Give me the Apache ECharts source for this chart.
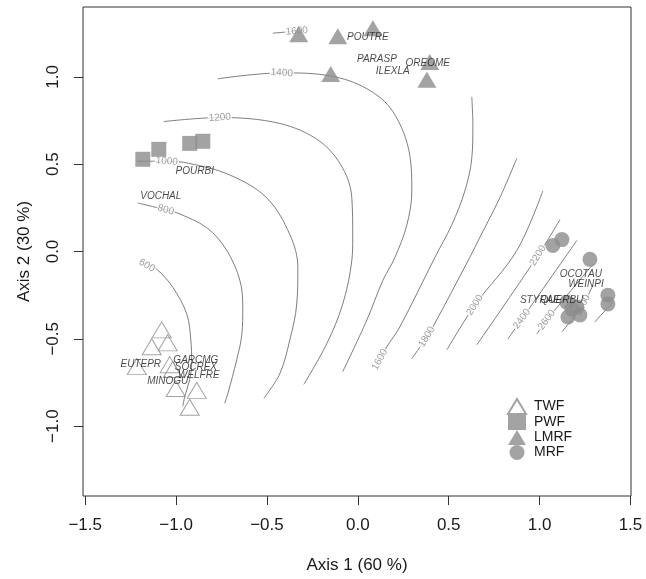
<!DOCTYPE html>
<html>
<head>
<meta charset="utf-8">
<script src="https://cdn.jsdelivr.net/npm/echarts@6/dist/echarts.min.js"></script>
<style>html,body{margin:0;padding:0;background:#fff}#c{width:646px;height:579px}</style>
</head>
<body>
<div id="c"></div>
<script>
// ---- data ----
const xTicks = [-1.5, -1.0, -0.5, 0.0, 0.5, 1.0, 1.5];
const yTicks = [-1.0, -0.5, 0.0, 0.5, 1.0];
const groupNames = ['TWF', 'PWF', 'LMRF', 'MRF'];

const twfPoints = [[-1.079,-0.449],[-1.134,-0.545],[-1.046,-0.523],[-1.216,-0.659],[-1.035,-0.648],[-1.018,-0.676],[-1.002,-0.784],[-0.886,-0.795],[-0.925,-0.892]];
const pwfPoints = [[-1.183,0.528],[-1.095,0.585],[-0.925,0.619],[-0.853,0.631]];
const lmrfPoints = [[-0.325,1.244],[-0.110,1.233],[0.083,1.278],[-0.149,1.017],[0.396,1.085],[0.380,0.983]];
const mrfPoints = [[1.073,0.034],[1.123,0.068],[1.277,-0.045],[1.150,-0.290],[1.178,-0.330],[1.205,-0.318],[1.222,-0.364],[1.156,-0.375],[1.376,-0.250],[1.376,-0.301]];

const speciesNames = ['POUTRE','PARASP','ILEXLA','OREOME','POURBI','VOCHAL','EUTEPR','GARCMG','SOCREX','WELFRE','MINOGU','OCOTAU','WEINPI','STYRAE','QUERBU'];
const speciesX = [0.055,0.105,0.192,0.385,-0.897,-1.084,-1.194,-0.891,-0.891,-0.875,-1.046,1.227,1.255,1.002,1.123];
const speciesY = [1.227,1.102,1.034,1.080,0.460,0.318,-0.648,-0.625,-0.665,-0.710,-0.744,-0.130,-0.188,-0.278,-0.278];

const c600  = [[-1.194,-0.051],[-1.106,-0.102],[-1.018,-0.205],[-0.941,-0.358],[-0.919,-0.506],[-0.914,-0.642],[-0.925,-0.733],[-0.952,-0.830],[-0.963,-0.886]];
const c800  = [[-1.211,0.278],[-1.057,0.239],[-0.996,0.222],[-0.831,0.136],[-0.721,0.006],[-0.649,-0.165],[-0.633,-0.318],[-0.638,-0.472],[-0.666,-0.619],[-0.715,-0.813],[-0.732,-0.869]];
const c1000 = [[-1.216,0.517],[-1.051,0.517],[-0.930,0.505],[-0.704,0.438],[-0.501,0.307],[-0.374,0.097],[-0.330,-0.091],[-0.336,-0.301],[-0.374,-0.506],[-0.429,-0.699],[-0.517,-0.841]];
const c1200 = [[-1.068,0.744],[-0.759,0.767],[-0.429,0.733],[-0.209,0.631],[-0.083,0.477],[-0.033,0.307],[-0.028,0.080],[-0.033,-0.051],[-0.083,-0.301],[-0.171,-0.528],[-0.297,-0.761]];
const c1400 = [[-0.771,0.989],[-0.418,1.023],[-0.154,1.006],[0.050,0.932],[0.193,0.801],[0.286,0.551],[0.297,0.347],[0.270,0.153],[0.204,-0.034],[0.138,-0.165],[0.050,-0.392],[-0.083,-0.688]];
const c1600a = [[-0.468,1.250],[-0.336,1.262],[-0.290,1.266]];
const c1600b = [[0.627,0.886],[0.633,0.722],[0.627,0.534],[0.589,0.347],[0.517,0.153],[0.424,-0.034],[0.231,-0.432],[0.160,-0.545],[0.121,-0.619]];
const c1800 = [[0.875,0.534],[0.781,0.307],[0.671,0.080],[0.616,-0.034],[0.413,-0.432],[0.380,-0.489],[0.297,-0.614]];
const c2000 = [[1.018,0.347],[0.875,0.006],[0.644,-0.307],[0.490,-0.563]];
const c2200 = [[1.112,0.182],[0.991,-0.023],[0.655,-0.534]];
const c2400 = [[1.205,0.063],[0.903,-0.386],[0.826,-0.500]];
const c2600 = [[1.293,-0.074],[1.040,-0.392],[0.985,-0.472]];
const c2800 = [[1.293,-0.193],[1.238,-0.307],[1.123,-0.460]];
const c3000 = [[1.403,-0.290],[1.304,-0.403]];

const contourLines = [c600,c800,c1000,c1200,c1400,c1600a,c1600b,c1800,c2000,c2200,c2400,c2600,c2800,c3000];
const contourLevels = [600,800,1000,1200,1400,1600,1600,1800,2000,2200,2400,2600,2800,3000];
// contour label anchor: [x, y, level]
const contourLabels = [[-1.161,-0.080,600],[-1.057,0.239,800],[-1.051,0.517,1000],[-0.759,0.767,1200],[-0.418,1.023,1400],[-0.336,1.262,1600],[0.121,-0.619,1600],[0.380,-0.489,1800],[0.644,-0.307,2000],[0.991,-0.023,2200],[0.903,-0.386,2400],[1.040,-0.392,2600],[1.238,-0.307,2800]];

// ---- chart ----
const FONT = '"Liberation Sans", Arial, sans-serif';
const INK = '#1a1a1a';
const GREY = '#8c8c8c';
const fmt = v => v.toFixed(1).replace('-', '\u2212');

const chart = echarts.init(document.getElementById('c'), null, {renderer: 'canvas'});

function buildOption(labelRot) {
  const series = [];
  contourLines.forEach((pts, i) => {
    series.push({
      type: 'line', name: 'c' + i, data: pts, smooth: 0.35, symbol: 'none',
      lineStyle: {color: '#6f6f6f', width: 0.9}, z: 1, silent: true, legendHoverLink: false
    });
  });
  series.push({
    type: 'scatter', name: 'clabels', symbolSize: 0, z: 2, silent: true,
    data: contourLabels.map((d, i) => ({
      value: [d[0], d[1]],
      label: {rotate: labelRot ? labelRot[i] : 0, formatter: String(d[2])}
    })),
    label: {show: true, position: 'inside', color: '#8a8a8a', fontSize: 10, fontFamily: FONT,
            backgroundColor: '#fff', padding: [0, 1]}
  });
  series.push({type: 'scatter', name: 'TWF', data: twfPoints, symbol: 'triangle', symbolSize: [19, 16], z: 3,
    itemStyle: {color: 'rgba(255,255,255,0)', borderColor: GREY, borderWidth: 1}});
  series.push({type: 'scatter', name: 'PWF', data: pwfPoints, symbol: 'rect', symbolSize: 15, z: 3,
    itemStyle: {color: GREY}});
  series.push({type: 'scatter', name: 'LMRF', data: lmrfPoints, symbol: 'triangle', symbolSize: [19, 16], z: 3,
    itemStyle: {color: GREY}});
  series.push({type: 'scatter', name: 'MRF', data: mrfPoints, symbol: 'circle', symbolSize: 15, z: 3,
    itemStyle: {color: GREY}});
  series.push({
    type: 'scatter', name: 'species', symbolSize: 0, z: 4, silent: true,
    data: speciesNames.map((n, i) => ({value: [speciesX[i], speciesY[i]], name: n})),
    label: {show: true, position: 'inside', formatter: p => p.name, color: INK, fontSize: 10,
            fontStyle: 'italic', fontFamily: FONT}
  });
  return {
    animation: false,
    backgroundColor: '#fff',
    textStyle: {fontFamily: FONT},
    grid: {left: 83, right: 15, top: 7, bottom: 79, show: true, borderColor: '#333', borderWidth: 1, containLabel: false},
    legend: {
      data: groupNames, orient: 'vertical', left: 502, top: 393, itemWidth: 18, itemHeight: 15, itemGap: 0,
      textStyle: {fontSize: 14, lineHeight: 15, color: INK, fontFamily: FONT, padding: [0, 0, 0, 3]}, selectedMode: false
    },
    xAxis: {
      type: 'value', min: -1.512, max: 1.503,
      name: 'Axis 1 (60 %)', nameLocation: 'middle', nameGap: 61,
      nameTextStyle: {fontSize: 17, color: INK, fontFamily: FONT},
      axisLine: {show: false, onZero: false}, splitLine: {show: false},
      axisTick: {show: true, inside: false, length: 9, customValues: xTicks, lineStyle: {color: '#333'}},
      axisLabel: {show: true, customValues: xTicks, formatter: fmt, fontSize: 17, color: INK, margin: 21, fontFamily: FONT}
    },
    yAxis: {
      type: 'value', min: -1.4, max: 1.4,
      name: 'Axis 2 (30 %)', nameLocation: 'middle', nameGap: 50,
      nameTextStyle: {fontSize: 17, color: INK, fontFamily: FONT},
      axisLine: {show: false, onZero: false}, splitLine: {show: false},
      axisTick: {show: true, inside: false, length: 9, customValues: yTicks, lineStyle: {color: '#333'}},
      axisLabel: {show: true, customValues: yTicks, formatter: fmt, fontSize: 17, color: INK, margin: 21, rotate: 90, fontFamily: FONT}
    },
    series: series
  };
}

chart.setOption(buildOption(null));

// label rotation follows the local direction of its contour line
const rots = contourLabels.map(d => {
  const P = chart.convertToPixel({gridIndex: 0}, [d[0], d[1]]);
  let best = null, bestD = Infinity;
  contourLines.forEach((pts, li) => {
    if (contourLevels[li] !== d[2]) return;
    for (let k = 0; k < pts.length - 1; k++) {
      const A = chart.convertToPixel({gridIndex: 0}, pts[k]);
      const B = chart.convertToPixel({gridIndex: 0}, pts[k + 1]);
      const mx = (A[0] + B[0]) / 2, my = (A[1] + B[1]) / 2;
      const dd = Math.hypot(mx - P[0], my - P[1]);
      if (dd < bestD) { bestD = dd; best = [A, B]; }
    }
  });
  if (!best) return 0;
  let ang = Math.atan2(-(best[1][1] - best[0][1]), best[1][0] - best[0][0]) * 180 / Math.PI;
  if (ang > 90) ang -= 180;
  if (ang <= -90) ang += 180;
  return ang;
});
chart.setOption(buildOption(rots));
</script>
</body>
</html>
